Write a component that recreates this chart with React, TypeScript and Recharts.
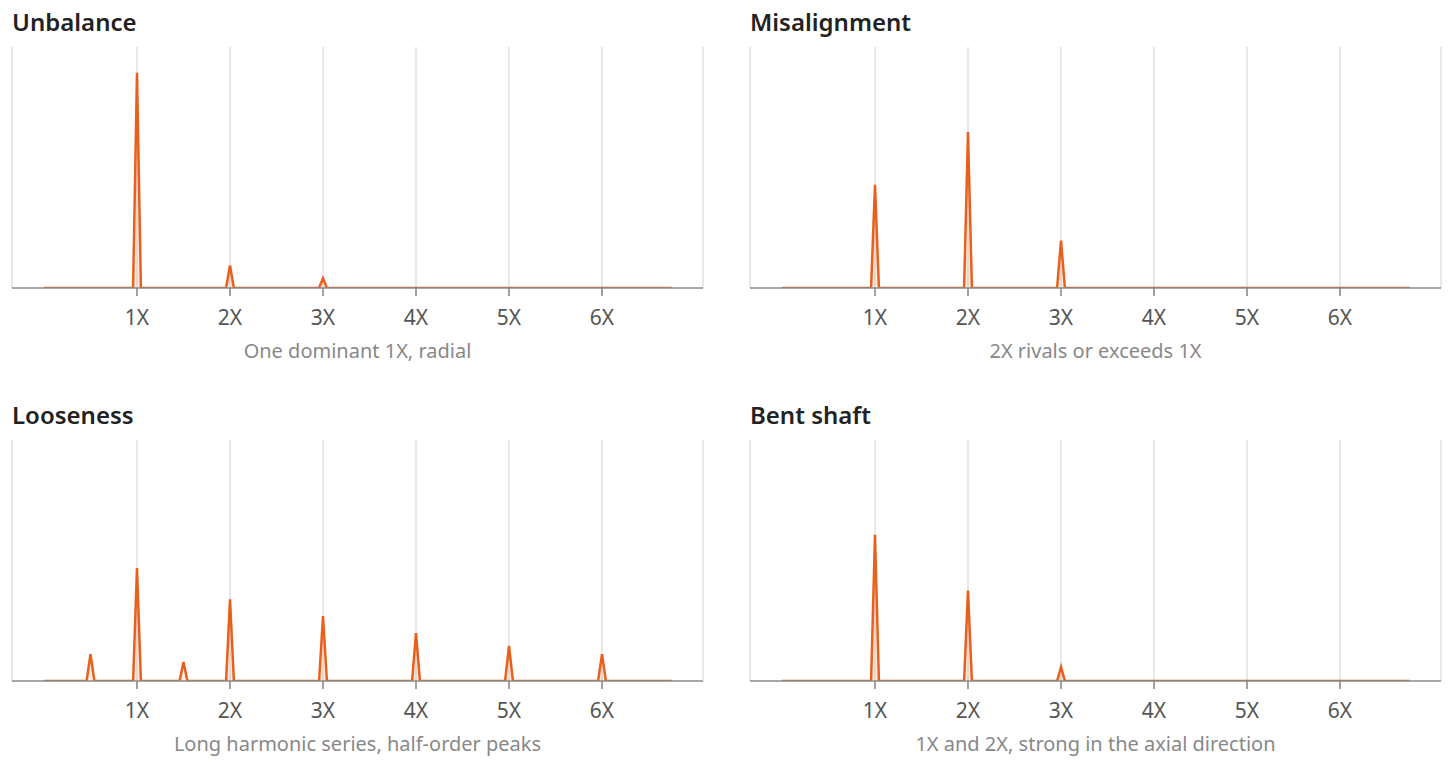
import { Area, AreaChart, CartesianGrid, XAxis, YAxis } from 'recharts'

// Orders of running speed where the spectrum has a peak, and the peak heights (relative).
const HARMONIC_TICKS = [1, 2, 3, 4, 5, 6]
const SPECTRUM_END = 6.75

const UNBALANCE_ORDERS = [1, 2, 3]
const UNBALANCE_AMPS = [1.0, 0.105, 0.045]

const MISALIGNMENT_ORDERS = [1, 2, 3]
const MISALIGNMENT_AMPS = [0.48, 0.725, 0.22]

const LOOSENESS_ORDERS = [0.5, 1, 1.5, 2, 3, 4, 5, 6]
const LOOSENESS_AMPS = [0.125, 0.525, 0.088, 0.38, 0.302, 0.223, 0.163, 0.125]

const BENT_SHAFT_ORDERS = [1, 2, 3]
const BENT_SHAFT_AMPS = [0.68, 0.42, 0.065]

const LINE_COLOR = '#e8601c'
const AXIS_COLOR = '#8a8a8a'
const GRID_COLOR = '#e2e1dd'
const FONT = '"Noto Sans", "Open Sans", sans-serif'

const PEAK_HALF_WIDTH = 0.042
const X_DOMAIN: [number, number] = [-0.344, 7.086]
const Y_DOMAIN: [number, number] = [0, 1.12]

const PLOT_W = 691
const PLOT_H = 241
const AXIS_H = 45
const PAD = 2

function buildSpectrum(orders: number[], amps: number[]) {
  const points = [{ f: 0, a: 0 }]
  orders.forEach((o, i) => {
    points.push({ f: o - PEAK_HALF_WIDTH, a: 0 })
    points.push({ f: o, a: amps[i] })
    points.push({ f: o + PEAK_HALF_WIDTH, a: 0 })
  })
  points.push({ f: SPECTRUM_END, a: 0 })
  return points
}

type PanelProps = {
  title: string
  subtitle: string
  data: { f: number; a: number }[]
  left: number
  top: number
}

function Panel({ title, subtitle, data, left, top }: PanelProps) {
  return (
    <>
      <div
        style={{
          position: 'absolute',
          left: left,
          top: top - 42,
          fontFamily: FONT,
          fontWeight: 600,
          fontSize: 24,
          color: '#222',
          whiteSpace: 'nowrap',
        }}
      >
        {title}
      </div>
      <div style={{ position: 'absolute', left: left - PAD, top: top - PAD }}>
        <AreaChart
          width={PLOT_W + PAD * 2}
          height={PLOT_H + AXIS_H + PAD}
          data={data}
          margin={{ top: PAD, right: PAD, bottom: 0, left: PAD }}
        >
          <CartesianGrid horizontal={false} stroke={GRID_COLOR} strokeWidth={1.5} />
          <XAxis
            dataKey="f"
            type="number"
            domain={X_DOMAIN}
            ticks={HARMONIC_TICKS}
            tickFormatter={(v) => `${v}X`}
            allowDataOverflow
            height={AXIS_H}
            stroke={AXIS_COLOR}
            strokeWidth={1.6}
            tickSize={8}
            tickMargin={14}
            tick={{ fill: '#555', fontSize: 21, fontFamily: FONT }}
          />
          <YAxis
            domain={Y_DOMAIN}
            allowDataOverflow
            width={0}
            tick={false}
            tickLine={false}
            stroke={AXIS_COLOR}
            strokeWidth={1.6}
          />
          <Area
            dataKey="a"
            type="linear"
            stroke={LINE_COLOR}
            strokeWidth={2.5}
            fill={LINE_COLOR}
            fillOpacity={0.12}
            dot={false}
            activeDot={false}
            isAnimationActive={false}
          />
        </AreaChart>
      </div>
      <div
        style={{
          position: 'absolute',
          left: left,
          width: PLOT_W,
          top: top + PLOT_H + 49,
          textAlign: 'center',
          fontFamily: FONT,
          fontSize: 20,
          color: '#888',
          whiteSpace: 'nowrap',
        }}
      >
        {subtitle}
      </div>
    </>
  )
}

export default function App() {
  return (
    <div
      style={{
        position: 'absolute',
        left: 0,
        top: 0,
        width: 1453,
        height: 767,
        background: '#fff',
        overflow: 'hidden',
      }}
    >
      <Panel
        title="Unbalance"
        subtitle="One dominant 1X, radial"
        data={buildSpectrum(UNBALANCE_ORDERS, UNBALANCE_AMPS)}
        left={12}
        top={47}
      />
      <Panel
        title="Misalignment"
        subtitle="2X rivals or exceeds 1X"
        data={buildSpectrum(MISALIGNMENT_ORDERS, MISALIGNMENT_AMPS)}
        left={750}
        top={47}
      />
      <Panel
        title="Looseness"
        subtitle="Long harmonic series, half-order peaks"
        data={buildSpectrum(LOOSENESS_ORDERS, LOOSENESS_AMPS)}
        left={12}
        top={440}
      />
      <Panel
        title="Bent shaft"
        subtitle="1X and 2X, strong in the axial direction"
        data={buildSpectrum(BENT_SHAFT_ORDERS, BENT_SHAFT_AMPS)}
        left={750}
        top={440}
      />
    </div>
  )
}
